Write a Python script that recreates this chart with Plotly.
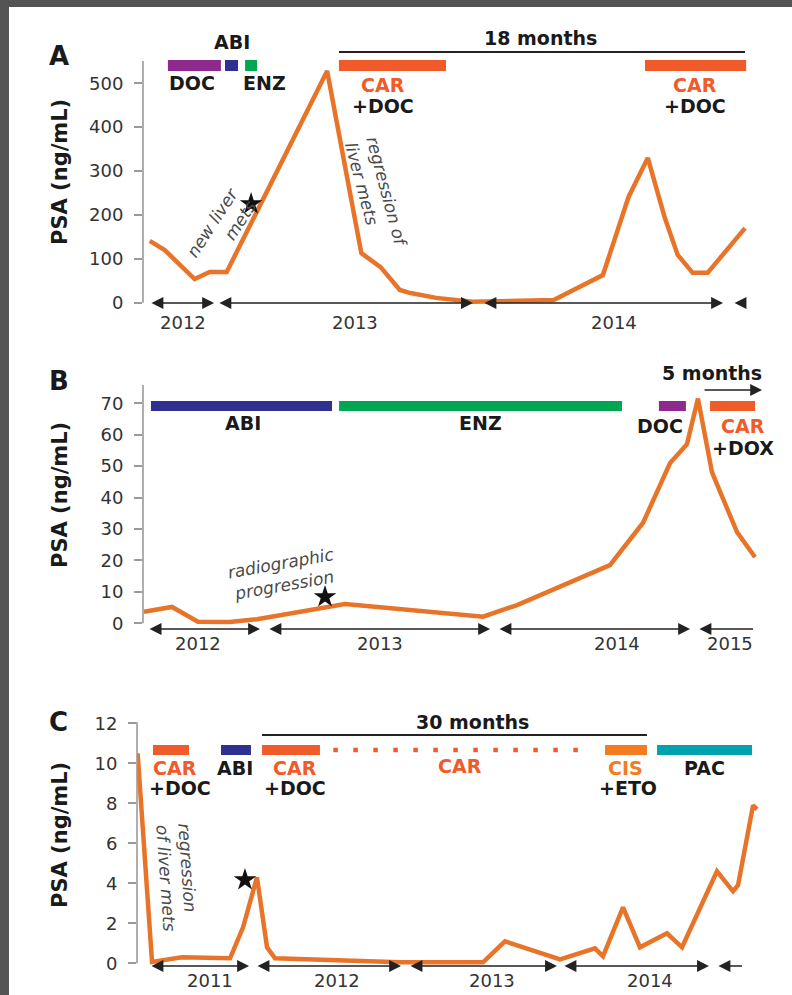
import plotly.graph_objects as go

W, H = 792, 995
FONT = "DejaVu Sans, Liberation Sans, Arial, sans-serif"

# ---------------- data (x = months; Jan 2012 = 12 for A/B, Jan 2012 = 12 for C) ----------------
# Panel A
a_month = [8.9, 9.6, 11.0, 11.7, 12.5, 17.2, 18.8, 19.7, 20.6, 21.1, 22.3, 24.0, 27.8,
           30.1, 31.3, 32.2, 33.0, 33.6, 34.3, 35.0, 36.75]
a_psa = [141, 120, 54, 70, 70, 528, 113, 81, 29, 22, 11, 2, 6,
         63, 241, 330, 193, 109, 68, 68, 170]
a_ticks = [0, 100, 200, 300, 400, 500]

# Panel B
b_month = [5.33, 6.89, 8.33, 10.11, 11.61, 16.5, 24.17, 26.06, 31.22, 33.06, 34.56,
           35.5, 36.11, 36.89, 38.28, 39.28]
b_psa = [3.7, 5.2, 0.5, 0.4, 1.3, 6.1, 2.1, 5.8, 18.5, 32, 51, 57, 71.5, 48, 29, 21]
b_ticks = [0, 10, 20, 30, 40, 50, 60, 70]

# Panel C
c_month = [2.95, 4.08, 6.43, 10.2, 11.22, 12.31, 13.1, 13.73, 23.53, 30.04, 31.76,
           36.08, 38.82, 39.45, 41.02, 42.35, 44.47, 45.65, 48.39, 49.65, 50.04, 51.22, 51.53]
c_psa = [10.5, 0.07, 0.3, 0.25, 1.8, 4.3, 0.8, 0.25, 0.05, 0.05, 1.1,
         0.2, 0.75, 0.35, 2.8, 0.8, 1.5, 0.8, 4.6, 3.6, 3.9, 7.9, 7.7]
c_ticks = [0, 2, 4, 6, 8, 10, 12]

# events (stars): month, psa
a_star = (13.64, 225)
b_star = (15.39, 8.4)
c_star = (11.37, 4.17)

# treatments: label, start, end, colour
a_treat = [("DOC", 9.75, 12.23, "#8E2A8E"), ("ABI", 12.42, 13.03, "#2E3192"),
           ("ENZ", 13.36, 13.92, "#00A651"), ("CAR", 17.75, 22.76, "#F15A29"),
           ("CAR", 32.07, 36.80, "#F15A29")]
b_treat = [("ABI", 5.72, 15.78, "#2E3192"), ("ENZ", 16.17, 31.89, "#00A651"),
           ("DOC", 33.94, 35.44, "#8E2A8E"), ("CAR", 36.78, 39.28, "#F15A29")]
c_treat = [("CAR", 4.16, 6.98, "#F15A29"), ("ABI", 9.49, 11.84, "#2E3192"),
           ("CAR", 12.71, 17.25, "#F15A29"), ("CIS", 39.61, 42.90, "#F47B20"),
           ("PAC", 43.69, 51.14, "#00A3AD")]
c_dotted = ("CAR", 18.3, 37.5, "#F15A29")

# year segments: label, start, end, label position, arrow side
a_years = [("2012", 8.91, 11.91, 10.46, "end+start"), ("2013", 12.09, 24.02, 18.5, "end+start"),
           ("2014", 24.49, 35.72, 30.62, "end+start"), ("", 36.19, 36.75, None, "start")]
b_years = [("2012", 5.56, 11.78, 8.33, "end+start"), ("2013", 12.22, 24.56, 18.44, "end+start"),
           ("2014", 25.0, 35.67, 31.61, "end+start"), ("2015", 36.11, 39.17, 37.89, "start")]
c_years = [("2011", 3.92, 11.69, 8.63, "end+start"), ("2012", 12.24, 23.61, 18.59, "end+start"),
           ("2013", 24.24, 35.84, 30.75, "end+start"), ("2014", 36.31, 47.76, 43.14, "end+start"),
           ("", 48.39, 50.35, None, "start")]

LINE = "#E8742A"
TXT = "#333333"
RED = "#F15A29"
NOTE = "#4a4a4a"

# ---------------- layout calibration (page pixels -> paper) ----------------
def PY(p):
    return 1 - p / H

def PX(p):
    return p / W

panels = {
    "A": dict(xd=(143, 760), xm=(216, 12, 21.375), zero=302.7, ppu=0.4388, top=61, bot=308),
    "B": dict(xd=(143, 765), xm=(264, 12, 18.0), zero=623.3, ppu=3.143, top=385, bot=634),
    "C": dict(xd=(137, 765), xm=(253, 12, 12.75), zero=963.3, ppu=20.0, top=722, bot=970),
}

def mrange(cfg):
    p0, m0, ppm = cfg["xm"]
    return [m0 + (cfg["xd"][0] - p0) / ppm, m0 + (cfg["xd"][1] - p0) / ppm]

def yrange(cfg):
    return [(cfg["zero"] - cfg["bot"]) / cfg["ppu"], (cfg["zero"] - cfg["top"]) / cfg["ppu"]]

def yval(cfg, p):
    return (cfg["zero"] - p) / cfg["ppu"]

fig = go.Figure()

names = ["A", "B", "C"]
datas = [(a_month, a_psa), (b_month, b_psa), (c_month, c_psa)]
stars = [a_star, b_star, c_star]
ticks = [a_ticks, b_ticks, c_ticks]
shapes = []
annotations = []

# dark frame edges
shapes.append(dict(type="rect", xref="paper", yref="paper", x0=0, x1=PX(9), y0=0, y1=1,
                   fillcolor="#545454", line_width=0, layer="above"))
shapes.append(dict(type="rect", xref="paper", yref="paper", x0=0, x1=1, y0=PY(7), y1=1,
                   fillcolor="#545454", line_width=0, layer="above"))

for i, n in enumerate(names):
    cfg = panels[n]
    xa = "x" if i == 0 else f"x{i+1}"
    ya = "y" if i == 0 else f"y{i+1}"
    xs, ys = datas[i]
    fig.add_trace(go.Scatter(x=xs, y=ys, mode="lines", line=dict(color=LINE, width=4.5),
                             xaxis=xa, yaxis=ya, showlegend=False, hoverinfo="skip"))
    fig.add_trace(go.Scatter(x=[stars[i][0]], y=[stars[i][1]], mode="markers",
                             marker=dict(symbol="star", size=17, color="#111111"),
                             xaxis=xa, yaxis=ya, showlegend=False, cliponaxis=False,
                             hoverinfo="skip"))
    lay_x = "xaxis" if i == 0 else f"xaxis{i+1}"
    lay_y = "yaxis" if i == 0 else f"yaxis{i+1}"
    fig.layout[lay_x] = dict(domain=[PX(cfg["xd"][0]), PX(cfg["xd"][1])], range=mrange(cfg),
                             visible=False, anchor=ya, automargin=False)
    fig.layout[lay_y] = dict(domain=[PY(cfg["bot"]), PY(cfg["top"])], range=yrange(cfg),
                             anchor=xa, showgrid=False, zeroline=False, showline=False,
                             automargin=False,
                             tickvals=ticks[i], ticks="outside", ticklen=8, tickwidth=1.5,
                             tickcolor="#9a9a9a", ticklabelstandoff=7,
                             tickfont=dict(family=FONT, size=18, color=TXT))
    shapes.append(dict(type="line", xref="paper", yref="paper",
                       x0=PX(cfg["xd"][0]), x1=PX(cfg["xd"][0]),
                       y0=PY(cfg["zero"]), y1=PY(cfg["top"]),
                       line=dict(color="#9a9a9a", width=1.6)))

# ---------------- helpers ----------------
def txt(text, x, xref, ypx, size=19, color="#1a1a1a", bold=True, **kw):
    t = f"<b>{text}</b>" if bold else text
    d = dict(text=t, x=x, xref=xref, y=PY(ypx), yref="paper", showarrow=False,
             font=dict(family=FONT, size=size, color=color), xanchor="center", yanchor="middle")
    d.update(kw)
    annotations.append(d)

def bar(x0, x1, xref, ytop, ybot, color):
    shapes.append(dict(type="rect", xref=xref, yref="paper", x0=x0, x1=x1,
                       y0=PY(ybot), y1=PY(ytop), fillcolor=color, line_width=0))

def hline(x0, x1, xref, ypx, color="#222222", width=2, dash="solid"):
    shapes.append(dict(type="line", xref=xref, yref="paper", x0=x0, x1=x1,
                       y0=PY(ypx), y1=PY(ypx), line=dict(color=color, width=width, dash=dash)))

def arrow(x0, x1, yv, xref, yref, side):
    annotations.append(dict(x=x1, y=yv, ax=x0, ay=yv, xref=xref, yref=yref, axref=xref,
                            ayref=yref, text="", showarrow=True, arrowhead=2, startarrowhead=2,
                            arrowside=side, arrowsize=1.4, startarrowsize=1.4, arrowwidth=1.7,
                            arrowcolor="#222222", standoff=0, startstandoff=0))

def year(lab, x, xref, ypx):
    txt(lab, x, xref, ypx, size=18, color=TXT, bold=False)

# ---------------- Panel A ----------------
cA = panels["A"]
txt("A", PX(59), "paper", 56, size=26)
for lab, x0, x1, col in a_treat:
    bar(x0, x1, "x", 60, 71, col)
txt("ABI", 12.75, "x", 42)
txt("DOC", 10.88, "x", 83)
txt("ENZ", 14.29, "x", 83)
txt("18 months", 27.16, "x", 38)
hline(17.75, 36.75, "x", 52)
txt("CAR", 19.81, "x", 85, color=RED)
txt("+DOC", 19.81, "x", 106)
txt("CAR", 34.41, "x", 85, color=RED)
txt("+DOC", 34.41, "x", 106)
txt("<i>new liver<br>mets</i>", 12.28, "x", 228, size=17, color=NOTE, bold=False,
    textangle=-57, align="right")
txt("<i>regression of<br>liver mets</i>", 19.49, "x", 195, size=17, color=NOTE,
    bold=False, textangle=75, align="left")
for lab, x0, x1, lx, side in a_years:
    arrow(x0, x1, yval(cA, 303), "x", "y", side)
    if lab:
        year(lab, lx, "x", 322)

# ---------------- Panel B ----------------
cB = panels["B"]
txt("B", PX(59), "paper", 381, size=26)
for lab, x0, x1, col in b_treat:
    bar(x0, x1, "x2", 401, 411, col)
txt("ABI", 10.83, "x2", 423)
txt("ENZ", 24.0, "x2", 423)
txt("DOC", 34.0, "x2", 426)
txt("CAR", 38.6, "x2", 426, color=RED)
txt("+DOX", 38.6, "x2", 448)
txt("5 months", 36.9, "x2", 373)
arrow(36.39, 39.67, yval(cB, 390), "x2", "y2", "end")
txt("<i>radiographic<br>progression</i>", 13.06, "x2", 574, size=17, color=NOTE,
    bold=False, textangle=-10)
for lab, x0, x1, lx, side in b_years:
    arrow(x0, x1, yval(cB, 629), "x2", "y2", side)
    if lab:
        year(lab, lx, "x2", 643)

# ---------------- Panel C ----------------
cC = panels["C"]
txt("C", PX(59), "paper", 722, size=26)
for lab, x0, x1, col in c_treat:
    bar(x0, x1, "x3", 745, 755, col)
hline(c_dotted[1], c_dotted[2], "x3", 750, color=c_dotted[3], width=4.5, dash="4.5px,15.5px")
txt("CAR", 5.88, "x3", 768, color=RED)
txt("+DOC", 6.3, "x3", 788)
txt("ABI", 10.59, "x3", 768)
txt("CAR", 15.29, "x3", 768, color=RED)
txt("+DOC", 15.29, "x3", 788)
txt("CAR", 28.24, "x3", 766, color=RED)
txt("CIS", 41.25, "x3", 768, color="#F47B20")
txt("+ETO", 41.41, "x3", 788)
txt("PAC", 47.45, "x3", 768)
txt("30 months", 29.18, "x3", 722)
hline(12.71, 42.9, "x3", 735)
txt("<i>regression<br>of liver mets</i>", 6.04, "x3", 877, size=17, color=NOTE,
    bold=False, textangle=86, align="left")
for lab, x0, x1, lx, side in c_years:
    arrow(x0, x1, yval(cC, 966), "x3", "y3", side)
    if lab:
        year(lab, lx, "x3", 980)

# y titles
for ypx in (172, 495, 835):
    annotations.append(dict(text="<b>PSA (ng/mL)</b>", x=PX(60), y=PY(ypx), xref="paper",
                            yref="paper", showarrow=False, textangle=-90,
                            font=dict(family=FONT, size=21, color="#1a1a1a"),
                            xanchor="center", yanchor="middle"))

fig.update_layout(template="none", width=W, height=H,
                  margin=dict(l=0, r=0, t=0, b=0, pad=0, autoexpand=False),
                  paper_bgcolor="white", plot_bgcolor="rgba(0,0,0,0)",
                  shapes=shapes, annotations=annotations, showlegend=False,
                  font=dict(family=FONT))

fig.write_html("out.html", config={"displayModeBar": False},
               post_script="document.body.style.margin='0';document.body.style.overflow='hidden';")
